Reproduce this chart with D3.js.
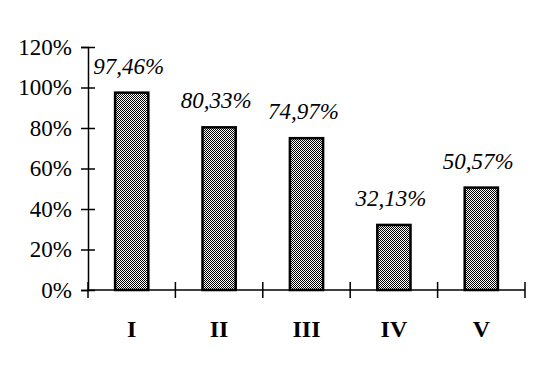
<!DOCTYPE html>
<html>
<head>
<meta charset="utf-8">
<script src="https://cdn.jsdelivr.net/npm/d3@7"></script>
<style>
  body { margin: 0; background: #fff; }
  text { font-family: "Liberation Serif", "Times New Roman", serif; fill: #000; }
</style>
</head>
<body>
<div id="chart"></div>
<script>
// data
const categories = ["I", "II", "III", "IV", "V"];
const values = [97.46, 80.33, 74.97, 32.13, 50.57];
const valueLabels = ["97,46%", "80,33%", "74,97%", "32,13%", "50,57%"];
const yTicks = [0, 20, 40, 60, 80, 100, 120];

const width = 550;
const height = 378;

const svg = d3.select("#chart")
    .append("svg")
    .attr("width", width)
    .attr("height", height);

// checker fill like the old excel pattern
const defs = svg.append("defs");
const pat = defs.append("pattern")
    .attr("id", "checker")
    .attr("width", 2)
    .attr("height", 2)
    .attr("patternUnits", "userSpaceOnUse");
pat.append("rect").attr("width", 2).attr("height", 2).attr("fill", "#fff");
pat.append("rect").attr("x", 0).attr("y", 0).attr("width", 1).attr("height", 1).attr("fill", "#000");
pat.append("rect").attr("x", 1).attr("y", 1).attr("width", 1).attr("height", 1).attr("fill", "#000");

const x = d3.scaleBand()
    .domain(categories)
    .range([88, 525])
    .padding(0);

const y = d3.scaleLinear()
    .domain([0, 120])
    .range([290, 47]);

const barW = x.bandwidth() * 0.38;

// bars
svg.selectAll("rect.bar")
    .data(values)
    .enter()
    .append("rect")
    .attr("class", "bar")
    .attr("x", (d, i) => x(categories[i]) + (x.bandwidth() - barW) / 2)
    .attr("y", d => y(d))
    .attr("width", barW)
    .attr("height", d => y(0) - y(d))
    .attr("fill", "url(#checker)")
    .attr("stroke", "#000")
    .attr("stroke-width", 2.5);

// value labels above bars
svg.selectAll("text.val")
    .data(values)
    .enter()
    .append("text")
    .attr("class", "val")
    .attr("x", (d, i) => x(categories[i]) + x.bandwidth() / 2 - 3)
    .attr("y", d => y(d) - 19)
    .attr("text-anchor", "middle")
    .style("font-size", "23px")
    .style("font-style", "italic")
    .text((d, i) => valueLabels[i]);

// y axis, ticks cross the line
const yAxis = svg.append("g")
    .attr("transform", "translate(88,0)")
    .call(d3.axisLeft(y).tickValues(yTicks).tickSize(7).tickPadding(9).tickFormat(d => d + "%"));
yAxis.select(".domain").attr("stroke", "#000").attr("stroke-width", 1.5);
yAxis.selectAll(".tick line").attr("x1", 7).attr("stroke", "#000").attr("stroke-width", 1.5);
yAxis.selectAll(".tick text")
    .style("font-size", "23px")
    .attr("font-family", null);

// x axis line
svg.append("line")
    .attr("x1", x.range()[0])
    .attr("x2", x.range()[1])
    .attr("y1", y(0))
    .attr("y2", y(0))
    .attr("stroke", "#000")
    .attr("stroke-width", 1.5);

// x ticks sit on band edges
const edges = categories.map(c => x(c)).concat([x.range()[1]]);
svg.selectAll("line.xtick")
    .data(edges)
    .enter()
    .append("line")
    .attr("class", "xtick")
    .attr("x1", d => d)
    .attr("x2", d => d)
    .attr("y1", y(0) - 8)
    .attr("y2", y(0) + 8)
    .attr("stroke", "#000")
    .attr("stroke-width", 1.5);

// category labels
svg.selectAll("text.cat")
    .data(categories)
    .enter()
    .append("text")
    .attr("class", "cat")
    .attr("x", d => x(d) + x.bandwidth() / 2)
    .attr("y", 337)
    .attr("text-anchor", "middle")
    .style("font-size", "24px")
    .style("font-weight", "bold")
    .text(d => d);
</script>
</body>
</html>
